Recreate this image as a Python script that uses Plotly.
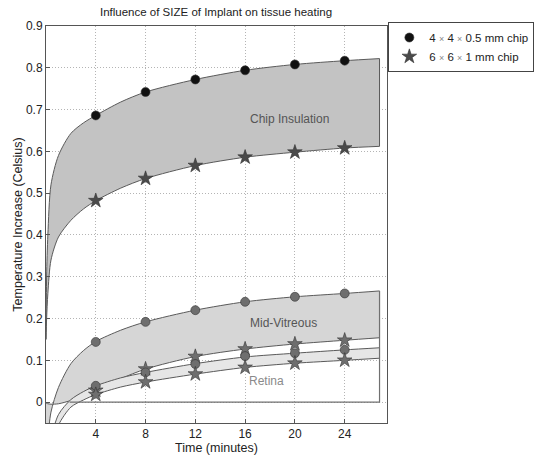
import plotly.graph_objects as go

# ---- data ----
t_curve = [0, 0.05, 0.15, 0.4, 1, 2, 3, 4, 6, 8, 12, 16, 20, 24, 26.8]

chip_upper = [0.15, 0.30, 0.40, 0.52, 0.59, 0.643, 0.668, 0.686, 0.718, 0.742, 0.772, 0.794, 0.808, 0.817, 0.822]
chip_lower = [0.15, 0.20, 0.26, 0.34, 0.395, 0.435, 0.462, 0.482, 0.512, 0.535, 0.566, 0.586, 0.598, 0.608, 0.612]

mid_upper = [-0.25, -0.17, -0.09, -0.024, 0.035, 0.092, 0.123, 0.145, 0.172, 0.192, 0.220, 0.240, 0.252, 0.260, 0.266]
mid_lower = [-0.002, -0.003, -0.004, -0.005, -0.004, 0.004, 0.016, 0.028, 0.056, 0.079, 0.109, 0.127, 0.139, 0.148, 0.154]

ret_upper = [-0.30, -0.22, -0.16, -0.09, -0.03, 0.006, 0.025, 0.039, 0.058, 0.071, 0.092, 0.108, 0.117, 0.125, 0.130]
ret_lower = [-0.33, -0.26, -0.20, -0.12, -0.055, -0.012, 0.005, 0.018, 0.036, 0.048, 0.067, 0.083, 0.093, 0.100, 0.105]

t_marks = [4, 8, 12, 16, 20, 24]
chip_circle = [0.686, 0.742, 0.772, 0.794, 0.808, 0.817]
chip_star = [0.482, 0.535, 0.566, 0.586, 0.598, 0.608]
mid_circle = [0.144, 0.192, 0.220, 0.240, 0.252, 0.260]
mid_star = [0.028, 0.079, 0.109, 0.127, 0.139, 0.148]
ret_circle = [0.039, 0.071, 0.091, 0.110, 0.117, 0.125]
ret_star = [0.018, 0.048, 0.067, 0.083, 0.093, 0.100]

baseline_t = [1.9, 26.8, 26.8]
baseline_v = [0, 0, 0.266]

x_ticks = [4, 8, 12, 16, 20, 24]
y_ticks = [0, 0.1, 0.2, 0.3, 0.4, 0.5, 0.6, 0.7, 0.8, 0.9]
y_tick_labels = ["0", "0.1", "0.2", "0.3", "0.4", "0.5", "0.6", "0.7", "0.8", "0.9"]

FONT = "Liberation Sans, Arial, sans-serif"
LINE = "#5a5a5a"

fig = go.Figure()

def band(upper, lower, fillcolor):
    fig.add_trace(go.Scatter(x=t_curve, y=upper, mode="lines",
                             line=dict(color=LINE, width=1, shape="spline", smoothing=0.8),
                             showlegend=False, hoverinfo="skip"))
    fig.add_trace(go.Scatter(x=t_curve, y=lower, mode="lines", fill="tonexty",
                             fillcolor=fillcolor,
                             line=dict(color=LINE, width=1, shape="spline", smoothing=0.8),
                             showlegend=False, hoverinfo="skip"))
    # closing edge of the band at its last time value
    fig.add_trace(go.Scatter(x=[t_curve[-1], t_curve[-1]], y=[lower[-1], upper[-1]],
                             mode="lines", line=dict(color=LINE, width=1),
                             showlegend=False, hoverinfo="skip"))

band(chip_upper, chip_lower, "#c3c3c3")
band(mid_upper, mid_lower, "#d6d6d6")
band(ret_upper, ret_lower, "#e6e6e6")

fig.add_trace(go.Scatter(x=baseline_t, y=baseline_v, mode="lines",
                         line=dict(color="#707070", width=1.2),
                         showlegend=False, hoverinfo="skip"))

def marks(vals, symbol, color, size, name=None):
    fig.add_trace(go.Scatter(x=t_marks, y=vals, mode="markers",
                             marker=dict(symbol=symbol, size=size, color=color,
                                         line=dict(color="#333333", width=0.6)),
                             name=name or "", showlegend=name is not None))

marks(mid_circle, "circle", "#6e6e6e", 9)
marks(mid_star, "star", "#6e6e6e", 11)
marks(ret_circle, "circle", "#6e6e6e", 9)
marks(ret_star, "star", "#6e6e6e", 11)

X = "<span style='font-size:9px;color:#888888'>×</span>"
marks(chip_circle, "circle", "#111111", 9, f"4 {X} 4 {X} 0.5 mm chip")
marks(chip_star, "star", "#4a4a4a", 11, f"6 {X} 6 {X} 1 mm chip")

fig.add_annotation(x=19.6, y=0.677, text="Chip Insulation", showarrow=False,
                   font=dict(family=FONT, size=12, color="#555555"))
fig.add_annotation(x=19.1, y=0.19, text="Mid-Vitreous", showarrow=False,
                   font=dict(family=FONT, size=12, color="#555555"))
fig.add_annotation(x=17.7, y=0.05, text="Retina", showarrow=False,
                   font=dict(family=FONT, size=12, color="#8a8a8a"))

axis_common = dict(showline=True, linecolor="#555555", linewidth=1, mirror=True,
                   showgrid=True, gridcolor="#b4b4b4", griddash="1px,2px", gridwidth=1,
                   zeroline=False, ticks="inside", ticklen=4, tickcolor="#555555",
                   automargin=False,
                   tickfont=dict(family=FONT, size=12, color="#222222"))

fig.update_layout(
    width=560, height=460,
    margin=dict(l=46, r=173, t=26, b=37),
    paper_bgcolor="white", plot_bgcolor="white",
    font=dict(family=FONT, size=11, color="#222222"),
    title=dict(text="Influence of SIZE of Implant on tissue heating",
               x=216 / 560, xanchor="center", y=1 - 12 / 460, yanchor="middle",
               font=dict(family=FONT, size=11.5, color="#222222")),
    xaxis=dict(range=[0, 27.4], tickvals=x_ticks,
               title=dict(text="Time (minutes)", standoff=2,
                          font=dict(family=FONT, size=12.5, color="#222222")),
               **axis_common),
    yaxis=dict(range=[-0.05, 0.9], tickvals=y_ticks, ticktext=y_tick_labels,
               title=dict(text="Temperature Increase (Celsius)", standoff=0,
                          font=dict(family=FONT, size=12.5, color="#222222")),
               **axis_common),
    legend=dict(x=1.004, y=1.01, xanchor="left", yanchor="top",
                bgcolor="white", bordercolor="#444444", borderwidth=1,
                font=dict(family=FONT, size=11.5, color="#222222"),
                traceorder="normal", tracegroupgap=0),
    showlegend=True,
)

fig.write_html("out.html")
